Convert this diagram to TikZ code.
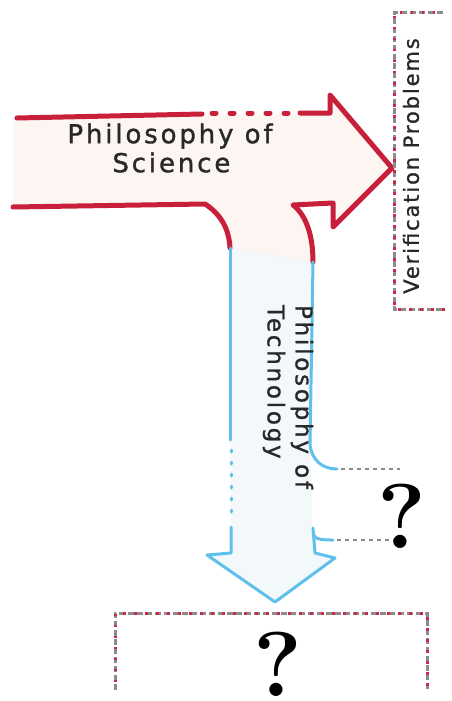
\documentclass[tikz,border=0pt]{standalone}
\usepackage{fontspec}
\newfontfamily\hand[FakeBold=1.2]{DejaVu Sans}
\definecolor{redline}{RGB}{200,32,58}
\definecolor{blueline}{RGB}{95,192,236}
\definecolor{pinkfill}{RGB}{252,245,241}
\definecolor{bluefill}{RGB}{243,248,251}
\definecolor{ink}{RGB}{40,40,40}
\definecolor{greydash}{RGB}{140,140,140}
\definecolor{reddot}{RGB}{205,40,70}
\tikzset{
  redstroke/.style={draw=redline, line width=5pt, line cap=round, line join=round},
  reddots/.style={draw=redline, line width=5pt, line cap=round, dash pattern=on 4pt off 14pt},
  bluestroke/.style={draw=blueline, line width=3pt, line cap=round, line join=round},
  bluedots/.style={draw=blueline, line width=3pt, line cap=round, dash pattern=on 2pt off 10pt},
  greydots/.style={draw=greydash, line width=2.5pt, dash pattern=on 4pt off 4pt},
  boxline/.style={draw=greydash, line width=3pt, dash pattern=on 6pt off 3pt,
    postaction={draw=reddot, line width=3pt, dash pattern=on 2.5pt off 8.5pt, dash phase=3pt}},
  handtext/.style={text=ink, inner sep=0pt},
  qmark/.style={text=black, inner sep=0pt, font=\bfseries\fontsize{92}{92}\selectfont}
}
\begin{document}
\begin{tikzpicture}[x=1pt,y=-1pt]
\useasboundingbox (0,0) rectangle (452,701);
% fills
\fill[pinkfill] (13,118) -- (330,114) -- (330,95) -- (392,168) -- (333,228) -- (333,203) -- (293,205)
  .. controls (306,215) and (313,235) .. (313,262) -- (230,250)
  .. controls (229,230) and (222,215) .. (205,204) -- (13,207) -- cycle;
\fill[bluefill] (230,248) -- (313,262) -- (311,445) -- (313,553) -- (335,558) -- (275,602) -- (207,555) -- (231,553) -- cycle;
% red arrow
\coordinate (rl1) at (17,118);
\coordinate (rl2) at (202,114);
\coordinate (rd1) at (212,113);
\coordinate (rd2) at (292,113);
\coordinate (rt1) at (300,113);
\coordinate (rb0) at (13,207);
\coordinate (rb1) at (205,204);
\coordinate (bl0) at (230,248);
\coordinate (br0) at (313,262);
\draw[redstroke] (rl1) -- (rl2);
\draw[reddots] (rd1) -- (rd2);
\draw[redstroke] (rt1) -- (330,113) -- (330,95) -- (392,168) -- (333,227) -- (333,203) -- (293,205)
  .. controls (306,215) and (313,235) .. (br0);
\draw[redstroke] (rb0) -- (rb1) .. controls (222,215) and (229,230) .. (bl0);
% blue arrow
\draw[bluestroke] (bl0) -- (230,440);
\draw[bluedots] (231,450) -- (231,520);
\draw[bluestroke] (231,527) -- (231,553) -- (207,555) -- (275,602) -- (335,558) -- (315,553) -- (313,528);
\draw[bluestroke] (313,534) .. controls (315,540) and (324,540) .. (333,540);
\draw[bluestroke] (br0) -- (310,445) .. controls (312,460) and (322,469) .. (337,469);
% grey dotted
\draw[greydots] (341,469) -- (400,469);
\draw[greydots] (337,540) -- (406,540);
% boxes
\draw[boxline] (443,13) -- (394,13) -- (394,309) -- (445,309);
\draw[boxline] (115,690) -- (115,613) -- (427,613) -- (427,690);
% texts
\node[handtext, align=left, font=\hand\addfontfeatures{LetterSpace=11}\fontsize{26}{29}\selectfont] (sci) at (170,148)
  {Philosophy of\\\hspace*{45pt}Science};
\node[handtext, align=left, rotate=-90, font=\hand\addfontfeatures{LetterSpace=12}\fontsize{23}{28}\selectfont] (tech) at (288,397)
  {Philosophy of\\Technology};
\node[handtext, rotate=90, font=\hand\addfontfeatures{LetterSpace=9}\fontsize{21}{24}\selectfont] (ver) at (411,166)
  {Verification Problems};
\node[qmark, anchor=base] (q1) at (402,548) {?};
\node[qmark, anchor=base] (q2) at (278,696) {?};
\end{tikzpicture}
\end{document}
